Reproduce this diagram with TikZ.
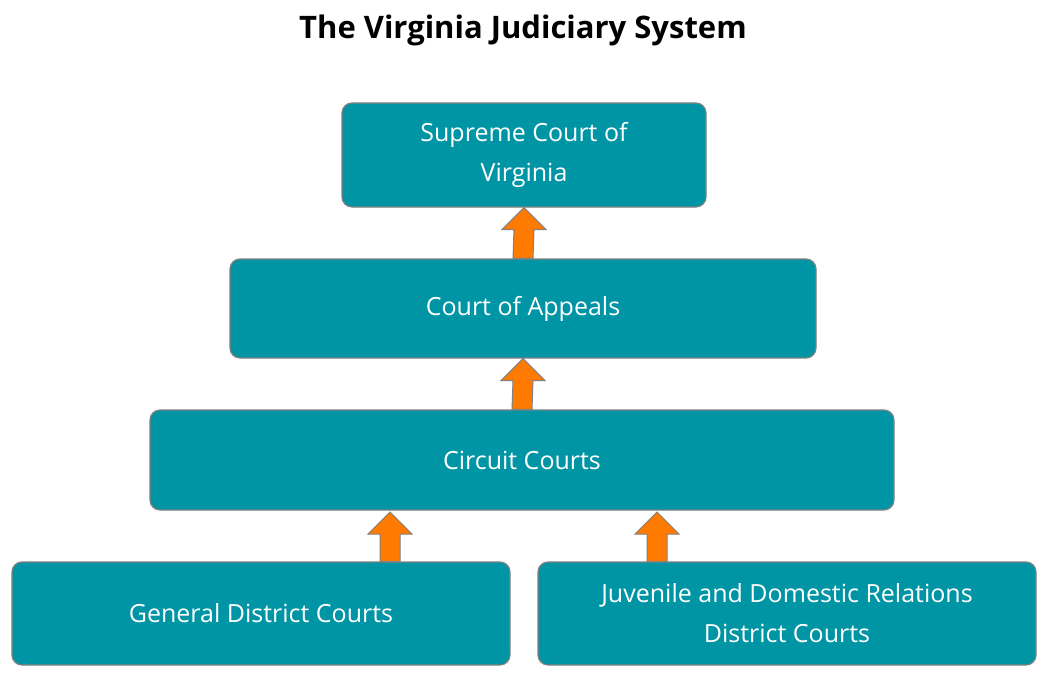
\documentclass[tikz,border=0pt]{standalone}
\usepackage{fontspec}
\setmainfont{Open Sans}
\usetikzlibrary{calc}

\tikzset{
    court/.style={draw=black!50, line width=1.2pt, fill=courtteal, rounded corners=10pt,
        text=white, align=center, font=\fontsize{25}{40}\selectfont, inner sep=0pt},
    uparrow/.style={draw=black!50, line width=1pt, fill=arroworange}
}
\definecolor{courtteal}{HTML}{0095A5}
\definecolor{arroworange}{HTML}{FF7A00}

% block arrow from (#1) up to tip (#2)
\newcommand\blockarrow[2]{
    \draw[uparrow] ($(#1)+(-10,0)$) -- ($(#2)+(-10,22)$) -- ($(#2)+(-22,22)$) -- (#2)
        -- ($(#2)+(22,22)$) -- ($(#2)+(10,22)$) -- ($(#1)+(10,0)$) -- cycle;
}

\begin{document}
\begin{tikzpicture}[x=1pt, y=-1pt]

    \useasboundingbox (0,0) rectangle (1050,674);

    % Title
    \node[font=\fontsize{31}{36}\selectfont\bfseries] (title) at (523,30) {The Virginia Judiciary System};

    % Courts
    \node[court, minimum width=364pt, minimum height=104pt] (supreme) at (524,155) {Supreme Court of\\Virginia};
    \node[court, minimum width=586pt, minimum height=99pt] (appeals) at (523,308.5) {Court of Appeals};
    \node[court, minimum width=744pt, minimum height=100pt] (circuit) at (522,460) {Circuit Courts};
    \node[court, minimum width=498pt, minimum height=103pt] (general) at (261,613.5) {General District Courts};
    \node[court, minimum width=498pt, minimum height=103pt] (juvenile) at (787,613.5) {Juvenile and Domestic Relations\\District Courts};

    % Arrow ends
    \coordinate (g-top) at (390,561.5);
    \coordinate (g-tip) at (390,512);
    \coordinate (j-top) at (657,561.5);
    \coordinate (j-tip) at (657,512);

    % Arrows
    \blockarrow{appeals.north}{supreme.south}
    \blockarrow{circuit.north}{appeals.south}
    \blockarrow{g-top}{g-tip}
    \blockarrow{j-top}{j-tip}

\end{tikzpicture}
\end{document}
